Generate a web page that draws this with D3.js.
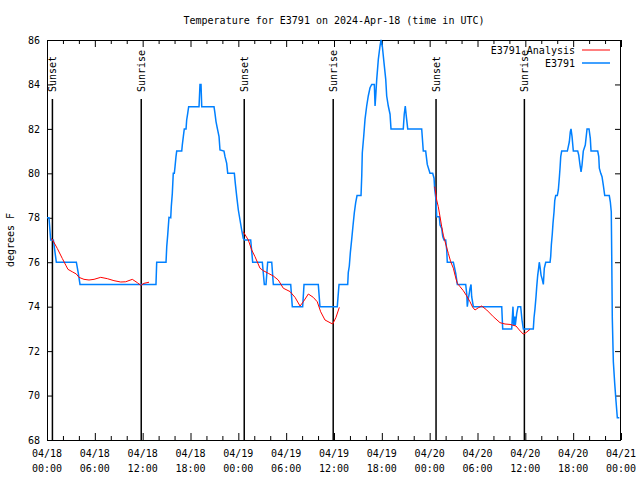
<!DOCTYPE html>
<html>
<head>
<meta charset="utf-8">
<script src="https://cdn.jsdelivr.net/npm/d3@7"></script>
<style>
  body { margin: 0; background: #fff; }
  text { font-family: "DejaVu Sans Mono", "Liberation Mono", monospace; font-size: 10px; fill: #000; }
</style>
</head>
<body>
<svg id="chart" width="640" height="480"></svg>
<script>
// ---- data (hours since 2024-04-18 00:00 UTC, degrees F) ----
const titleText = "Temperature for E3791 on 2024-Apr-18 (time in UTC)";
const yLabel = "degrees F";
const seriesNames = ["E3791 Analysis", "E3791"];
const majorTickHours = [0, 6, 12, 18, 24, 30, 36, 42, 48, 54, 60, 66, 72];
const tickDates = ["04/18","04/18","04/18","04/18","04/19","04/19","04/19","04/19","04/20","04/20","04/20","04/20","04/21"];
const tickTimes = ["00:00","06:00","12:00","18:00","00:00","06:00","12:00","18:00","00:00","06:00","12:00","18:00","00:00"];
const yTicks = [68, 70, 72, 74, 76, 78, 80, 82, 84, 86];
const sunsetHours = [0.68, 24.74, 48.8];
const sunriseHours = [11.82, 35.9, 59.88];

const observed = [
[0,78],[0.25,78],[0.46,77],[0.8,77],[1.17,76],[3.68,76],[3.93,75.5],[4.14,75],[13.67,75],[13.76,76],[14.93,76],
[15.02,76.7],[15.14,77.22],[15.3,78.02],[15.52,78],[15.59,78.5],[15.72,79.1],[15.84,80],[15.97,80],[16.06,80.3],
[16.18,80.75],[16.27,81],[16.9,81],[16.97,81.27],[17.1,81.65],[17.22,82],[17.44,82],[17.52,82.4],[17.65,82.7],
[17.77,83],[19.07,83],[19.19,84],[19.32,84],[19.41,83],[20.95,83],[21.07,82.7],[21.2,82.33],[21.36,82.03],
[21.58,81.65],[21.7,81.05],[22.2,81],[22.33,80.75],[22.54,80.45],[22.67,80],[23.5,80],[23.62,79.55],[23.8,78.95],
[24.0,78.35],[24.21,77.9],[24.42,77.45],[24.62,77.07],[24.8,77],[25.55,77],[25.8,76],[27.01,76],[27.26,75],
[27.47,75],[27.68,76],[28.19,76],[28.39,75],[30.57,75],[30.77,74],[32.07,74],[32.24,75],[34.03,75],[34.24,74],
[36.41,74],[36.63,75],[37.72,75],[37.79,75.53],[37.92,75.83],[38.05,76.43],[38.22,77.03],[38.38,77.63],[38.55,78.23],
[38.72,78.68],[38.89,79],[39.39,79],[39.48,79.88],[39.55,80.93],[39.73,81.68],[39.89,82.43],[40.1,83.03],[40.3,83.48],
[40.52,83.85],[40.73,84],[41.06,84],[41.15,83.03],[41.24,83.5],[41.36,84.23],[41.56,85.13],[41.77,85.73],[41.9,86],
[42.06,85.73],[42.27,84.98],[42.49,84.23],[42.61,83.48],[42.81,83.03],[43.03,82.66],[43.15,82],[44.69,82],
[44.81,82.66],[44.94,83.03],[45.06,82.6],[45.25,82],[47.0,82],[47.2,81],[47.5,81],[47.7,80.4],
[48.04,80],[48.38,80],[48.55,79.78],[48.63,79.28],[48.8,78.8],[48.88,78.05],[49.21,78.05],[49.3,77.67],[49.51,77.52],
[49.64,77.15],[49.8,77],[50.01,77],[50.14,76.55],[50.21,76],[50.97,76],[51.09,75.8],[51.27,75.5],[51.47,75],[52.52,75],
[52.65,74.57],[52.72,74],[52.85,74.37],[52.97,74.6],[53.06,74.82],[53.19,75],[53.27,74.45],[53.48,74],[57.04,74],
[57.16,73],[58.29,73],[58.45,74],[58.54,73.17],[58.67,73.55],[58.74,73.17],[58.92,73.7],[59.08,74],[59.42,74],
[59.58,73.4],[59.75,73],[61.0,73],[61.09,73.5],[61.21,73.9],[61.34,74.45],[61.43,74.9],[61.55,75.4],[61.68,75.77],
[61.75,76],[61.84,75.8],[61.97,75.42],[62.09,75.27],[62.26,75],[62.38,75.73],[62.56,76],[63.1,76],[63.18,76.25],
[63.26,76.77],[63.38,77.27],[63.47,77.75],[63.6,78.27],[63.69,78.77],[63.81,79],[64.01,79],[64.14,79.25],[64.26,79.78],
[64.35,80.23],[64.44,80.75],[64.56,81],[65.27,81],[65.39,81.2],[65.52,81.42],[65.64,81.87],[65.73,82],[65.86,81.65],
[66.02,81],[66.57,81],[66.7,80.82],[66.86,80.37],[66.99,80.07],[67.11,80.37],[67.27,81],[67.52,81.27],[67.74,82],
[67.99,82],[68.15,81.57],[68.24,81],[69.08,81],[69.21,80.75],[69.28,80.23],[69.46,80],[69.62,79.85],[69.78,79.47],
[69.96,79],[70.53,79],[70.66,78.72],[70.78,78.27],[70.83,76.55],[70.91,73.47],[71.04,71.52],[71.21,70.55],[71.38,69.72],
[71.54,69],[71.79,69]
];

const analysisNight1 = [
[0.5,77.05],[0.66,77.03],[1.29,76.62],[1.92,76.17],[2.35,75.87],[2.63,75.68],[3.17,75.57],[3.68,75.47],[4.01,75.32],
[4.64,75.23],[5.27,75.2],[5.9,75.23],[6.74,75.32],[7.57,75.26],[8.4,75.17],[9.25,75.11],[9.87,75.12],[10.7,75.23],
[11.33,75.08],[11.75,74.96],[12.17,75.05],[12.8,75.1]
];
const analysisNight2 = [
[24.62,77.37],[25.25,77.0],[25.68,76.55],[26.09,76.25],[26.72,75.73],[27.13,75.62],[27.76,75.5],[28.39,75.38],
[29.01,75.2],[29.64,74.83],[30.48,74.68],[31.11,74.42],[31.74,74.03],[32.15,74.22],[32.78,74.57],[33.4,74.42],
[33.9,74.22],[34.33,73.77],[34.87,73.4],[35.5,73.28],[35.84,73.22],[36.25,73.52],[36.67,73.97]
];
const analysisNight3 = [
[48.6,79.4],[48.67,79.33],[48.88,78.8],[49.08,78.5],[49.3,78.05],[49.51,77.6],[49.71,77.22],[50.05,76.77],[50.34,76.4],
[50.64,76.02],[50.97,75.73],[51.18,75.42],[51.47,75.05],[51.81,74.9],[52.22,74.72],[52.65,74.48],[53.06,74.22],
[53.4,73.97],[53.69,73.85],[54.1,73.95],[54.53,74.03],[55.16,73.85],[55.98,73.55],[56.82,73.28],[57.45,73.22],
[58.08,73.2],[58.83,73.13],[59.25,72.95],[59.75,72.76],[60.08,72.83],[60.59,72.98]
];

// ---- layout ----
const L = 47, R = 621, T = 40, B = 440;
const svg = d3.select("#chart");
const x = d3.scaleLinear().domain([0, 72]).range([L, R]);
const y = d3.scaleLinear().domain([68, 86]).range([B, T]);
const minorTickHours = d3.range(0, 73, 2).filter(h => h % 6 !== 0);

// title
svg.append("text").attr("x", (L + R) / 2).attr("y", 24).attr("text-anchor", "middle").text(titleText);
// y label
svg.append("text").attr("transform", `translate(14,${(T + B) / 2}) rotate(-90)`).attr("text-anchor", "middle").text(yLabel);

// axes
const gB = svg.append("g").attr("transform", `translate(0,${B})`)
  .call(d3.axisBottom(x).tickValues(majorTickHours).tickSize(-7).tickFormat(""));
const gBm = svg.append("g").attr("transform", `translate(0,${B})`)
  .call(d3.axisBottom(x).tickValues(minorTickHours).tickSize(-4).tickFormat(""));
const gT = svg.append("g").attr("transform", `translate(0,${T})`)
  .call(d3.axisTop(x).tickValues(majorTickHours).tickSize(-7).tickFormat(""));
const gTm = svg.append("g").attr("transform", `translate(0,${T})`)
  .call(d3.axisTop(x).tickValues(minorTickHours).tickSize(-4).tickFormat(""));
const gL = svg.append("g").attr("transform", `translate(${L},0)`)
  .call(d3.axisLeft(y).tickValues(yTicks).tickSize(-6).tickPadding(7).tickFormat(d3.format("d")));
const gR = svg.append("g").attr("transform", `translate(${R},0)`)
  .call(d3.axisRight(y).tickValues(yTicks).tickSize(-6).tickFormat(""));
[gB, gBm, gT, gTm, gL, gR].forEach(g => {
  g.select(".domain").remove();
  g.selectAll("line").attr("stroke", "#000").attr("stroke-width", 1);
  g.selectAll("text").attr("font-family", null).attr("font-size", null);
});
gL.selectAll("text").attr("fill", "#000");

// two-line x labels
const xl = svg.append("g");
majorTickHours.forEach((h, i) => {
  const t = xl.append("text").attr("text-anchor", "middle").attr("x", x(h)).attr("y", B + 17);
  t.append("tspan").attr("x", x(h)).attr("y", B + 17).text(tickDates[i]);
  t.append("tspan").attr("x", x(h)).attr("y", B + 32).text(tickTimes[i]);
});

// frame
svg.append("rect").attr("x", L + 0.5).attr("y", T + 0.5).attr("width", R - L - 1).attr("height", B - T)
  .attr("fill", "none").attr("stroke", "#000").attr("stroke-width", 1);

// sun lines
const sunTop = T + 59;
const sunG = svg.append("g");
function sunLine(h, label) {
  sunG.append("line").attr("x1", x(h)).attr("x2", x(h)).attr("y1", sunTop).attr("y2", B)
    .attr("stroke", "#000").attr("stroke-width", 1.5);
  sunG.append("text").attr("transform", `translate(${x(h) + 4},${sunTop - 7}) rotate(-90)`).text(label);
}
sunsetHours.forEach(h => sunLine(h, "Sunset"));
sunriseHours.forEach(h => sunLine(h, "Sunrise"));

// series
const line = d3.line().x(d => x(d[0])).y(d => y(d[1]));
svg.append("path").datum(observed).attr("d", line).attr("fill", "none")
  .attr("stroke", "#0080ff").attr("stroke-width", 1.5).attr("stroke-linejoin", "miter");
[analysisNight1, analysisNight2, analysisNight3].forEach(seg => {
  svg.append("path").datum(seg).attr("d", line).attr("fill", "none")
    .attr("stroke", "#ff0000").attr("stroke-width", 1);
});

// legend
const legColors = ["#ff0000", "#0080ff"];
const legW = [1, 1.5];
seriesNames.forEach((n, i) => {
  const yy = 50 + i * 13;
  svg.append("text").attr("x", 575).attr("y", yy + 4).attr("text-anchor", "end").text(n);
  svg.append("line").attr("x1", 582).attr("x2", 610).attr("y1", yy).attr("y2", yy)
    .attr("stroke", legColors[i]).attr("stroke-width", legW[i]);
});
</script>
</body>
</html>
